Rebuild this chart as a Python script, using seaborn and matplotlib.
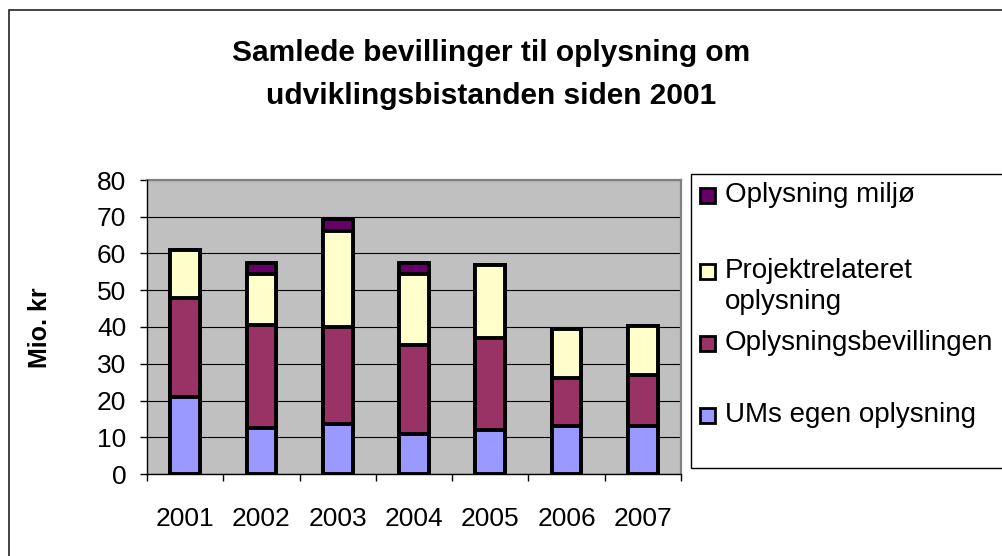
import numpy as np
import pandas as pd
import seaborn as sns
import matplotlib.pyplot as plt
from matplotlib.patches import Rectangle

# Data (Mio. kr)
aar = ["2001", "2002", "2003", "2004", "2005", "2006", "2007"]
ums_egen = [21, 12.5, 13.5, 11, 12, 13, 13]
oplysningsbev = [27, 28, 26.5, 24, 25, 13, 14]
projektrel = [13, 14, 26, 19.5, 20, 13.5, 13.3]
miljoe = [0, 3, 3.5, 3, 0, 0, 0]

serier = ["UMs egen oplysning", "Oplysningsbevillingen",
          "Projektrelateret oplysning", "Oplysning miljø"]
farver = ["#9999FF", "#993366", "#FFFFCC", "#660066"]

df = pd.DataFrame({"aar": aar, serier[0]: ums_egen, serier[1]: oplysningsbev,
                   serier[2]: projektrel, serier[3]: miljoe})

sns.set_style("white")
plt.rcParams["font.family"] = ["Liberation Sans", "DejaVu Sans"]
plt.rcParams["text.color"] = "black"
plt.rcParams["xtick.color"] = "black"
plt.rcParams["ytick.color"] = "black"

W, H = 1002, 556
fig = plt.figure(figsize=(W / 100, H / 100), dpi=100)
ax = fig.add_axes([147 / W, 1 - 474 / H, 534 / W, 294 / H])
ax.set_facecolor("#C0C0C0")

# stacked bars: draw cumulative totals from the top layer down
kum = df[serier].cumsum(axis=1)
for navn, farve in reversed(list(zip(serier, farver))):
    sns.barplot(x=df["aar"], y=kum[navn], color=farve, saturation=1,
                width=0.39, edgecolor="black", linewidth=2.8, ax=ax, zorder=3)

ax.set_ylim(0, 80)
ax.set_yticks(range(0, 81, 10))
ax.set_xlim(-0.5, 6.5)
ax.yaxis.grid(True, color="black", linewidth=0.8)
ax.set_axisbelow(True)
ax.set_xlabel("")
ax.set_ylabel("")

for s in ["top", "right"]:
    ax.spines[s].set_color("#808080")
    ax.spines[s].set_linewidth(1.6)
for s in ["left", "bottom"]:
    ax.spines[s].set_color("black")
    ax.spines[s].set_linewidth(1.0)
    ax.spines[s].set_zorder(4)

ax.tick_params(axis="y", which="major", direction="out", length=5, width=1,
               color="black", labelsize=19, labelcolor="black", pad=10, left=True)
ax.tick_params(axis="x", which="major", length=0, labelsize=19,
               labelcolor="black", pad=24)
ax.set_xticks(np.arange(-0.5, 7, 1), minor=True)
ax.tick_params(axis="x", which="minor", direction="out", length=5, width=1,
               color="black", bottom=True)

fig.text(40 / W, 1 - 328 / H, "Mio. kr", rotation=90, fontsize=18,
         fontweight="bold", ha="center", va="center", color="black")

# title, one text per line
fig.text(491 / W, 1 - 53 / H, "Samlede bevillinger til oplysning om",
         fontsize=21.5, fontweight="bold", ha="center", va="center",
         color="black")
fig.text(491 / W, 1 - 96 / H, "udviklingsbistanden siden 2001",
         fontsize=21.5, fontweight="bold", ha="center", va="center",
         color="black")

# legend box
fig.patches.append(Rectangle((691 / W, 1 - 468 / H), 330 / W, 294 / H,
                             transform=fig.transFigure, facecolor="white",
                             edgecolor="black", linewidth=1.0))
poster = [("Oplysning miljø", farver[3], 195),
          ("Projektrelateret", farver[2], 271),
          ("Oplysningsbevillingen", farver[1], 343),
          ("UMs egen oplysning", farver[0], 415)]
for tekst, farve, yc in poster:
    fig.patches.append(Rectangle((700 / W, 1 - (yc + 7.5) / H), 15 / W, 15 / H,
                                 transform=fig.transFigure, facecolor=farve,
                                 edgecolor="black", linewidth=2.0))
    fig.text(725 / W, 1 - yc / H, tekst, fontsize=20, ha="left", va="center",
             color="black")
fig.text(725 / W, 1 - 302 / H, "oplysning", fontsize=20, ha="left",
         va="center", color="black")

# outer chart frame
fig.patches.append(Rectangle((9 / W, -0.1), 1.2, 1.1 - 10 / H,
                             transform=fig.transFigure, facecolor="none",
                             edgecolor="#222222", linewidth=1.2))

fig.savefig("out.png", dpi=100)
